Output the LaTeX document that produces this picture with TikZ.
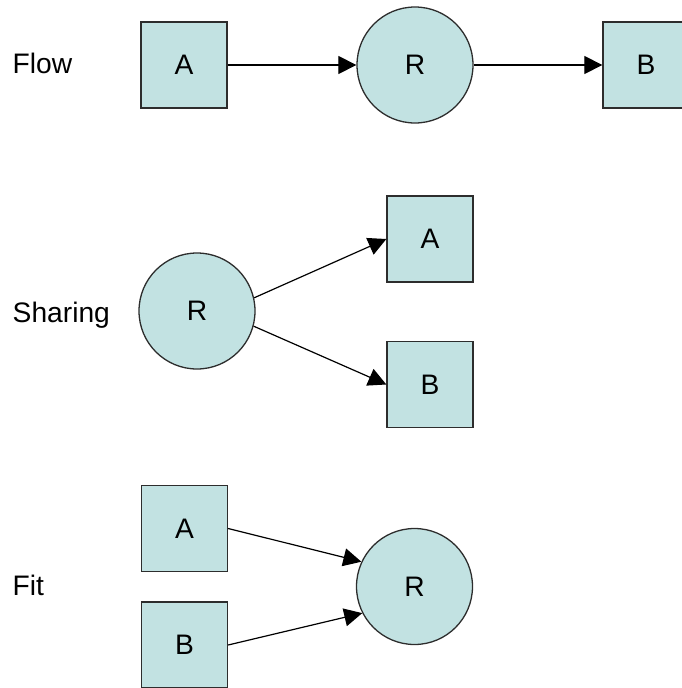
\documentclass[tikz,border=0pt]{standalone}
\usepackage{fontspec}
\setmainfont{Liberation Sans}
\usetikzlibrary{arrows.meta}
\definecolor{cellfill}{RGB}{194,226,226}
\definecolor{edgegray}{RGB}{45,45,45}
\begin{document}
\begin{tikzpicture}[x=1pt,y=-1pt,
  font=\fontsize{28.2}{33}\selectfont,
  square/.style={draw=edgegray, line width=1.3pt, fill=cellfill,
    minimum size=86pt, inner sep=0pt},
  res/.style={circle, draw=edgegray, line width=1.3pt, fill=cellfill,
    minimum size=116pt, inner sep=0pt},
  lbl/.style={anchor=base west, inner sep=0pt},
  link/.style={draw=black, line width=1.2pt,
    -{Triangle[length=18pt,width=18pt]}}]
\useasboundingbox (0,0) rectangle (682,688);

% row labels
\node[lbl] (tflow) at (12.5,73) {Flow};
\node[lbl] (tshare) at (12.5,322) {Sharing};
\node[lbl] (tfit) at (12.5,595) {Fit};

% flow: A -> R -> B
\node[square] (a1) at (184,65) {A};
\node[res] (r1) at (415,65) {R};
\node[square] (b1) at (646,65) {B};
\draw[link] (a1.east) -- (r1.west);
\draw[link] (r1.east) -- (b1.west);

% sharing: R feeds A and B
\node[res] (r2) at (197,311) {R};
\node[square] (a2) at (430,239) {A};
\node[square] (b2) at (430,384.5) {B};
\draw[link] (r2.13) -- (a2.west);
\draw[link] (r2.-15) -- (b2.west);

% fit: A and B feed R
\node[square] (a3) at (184.5,528.5) {A};
\node[square] (b3) at (184.5,645) {B};
\node[res] (r3) at (414.5,586.5) {R};
\draw[link] (a3.east) -- (r3.155);
\draw[link] (b3.east) -- (r3.207);
\end{tikzpicture}
\end{document}
